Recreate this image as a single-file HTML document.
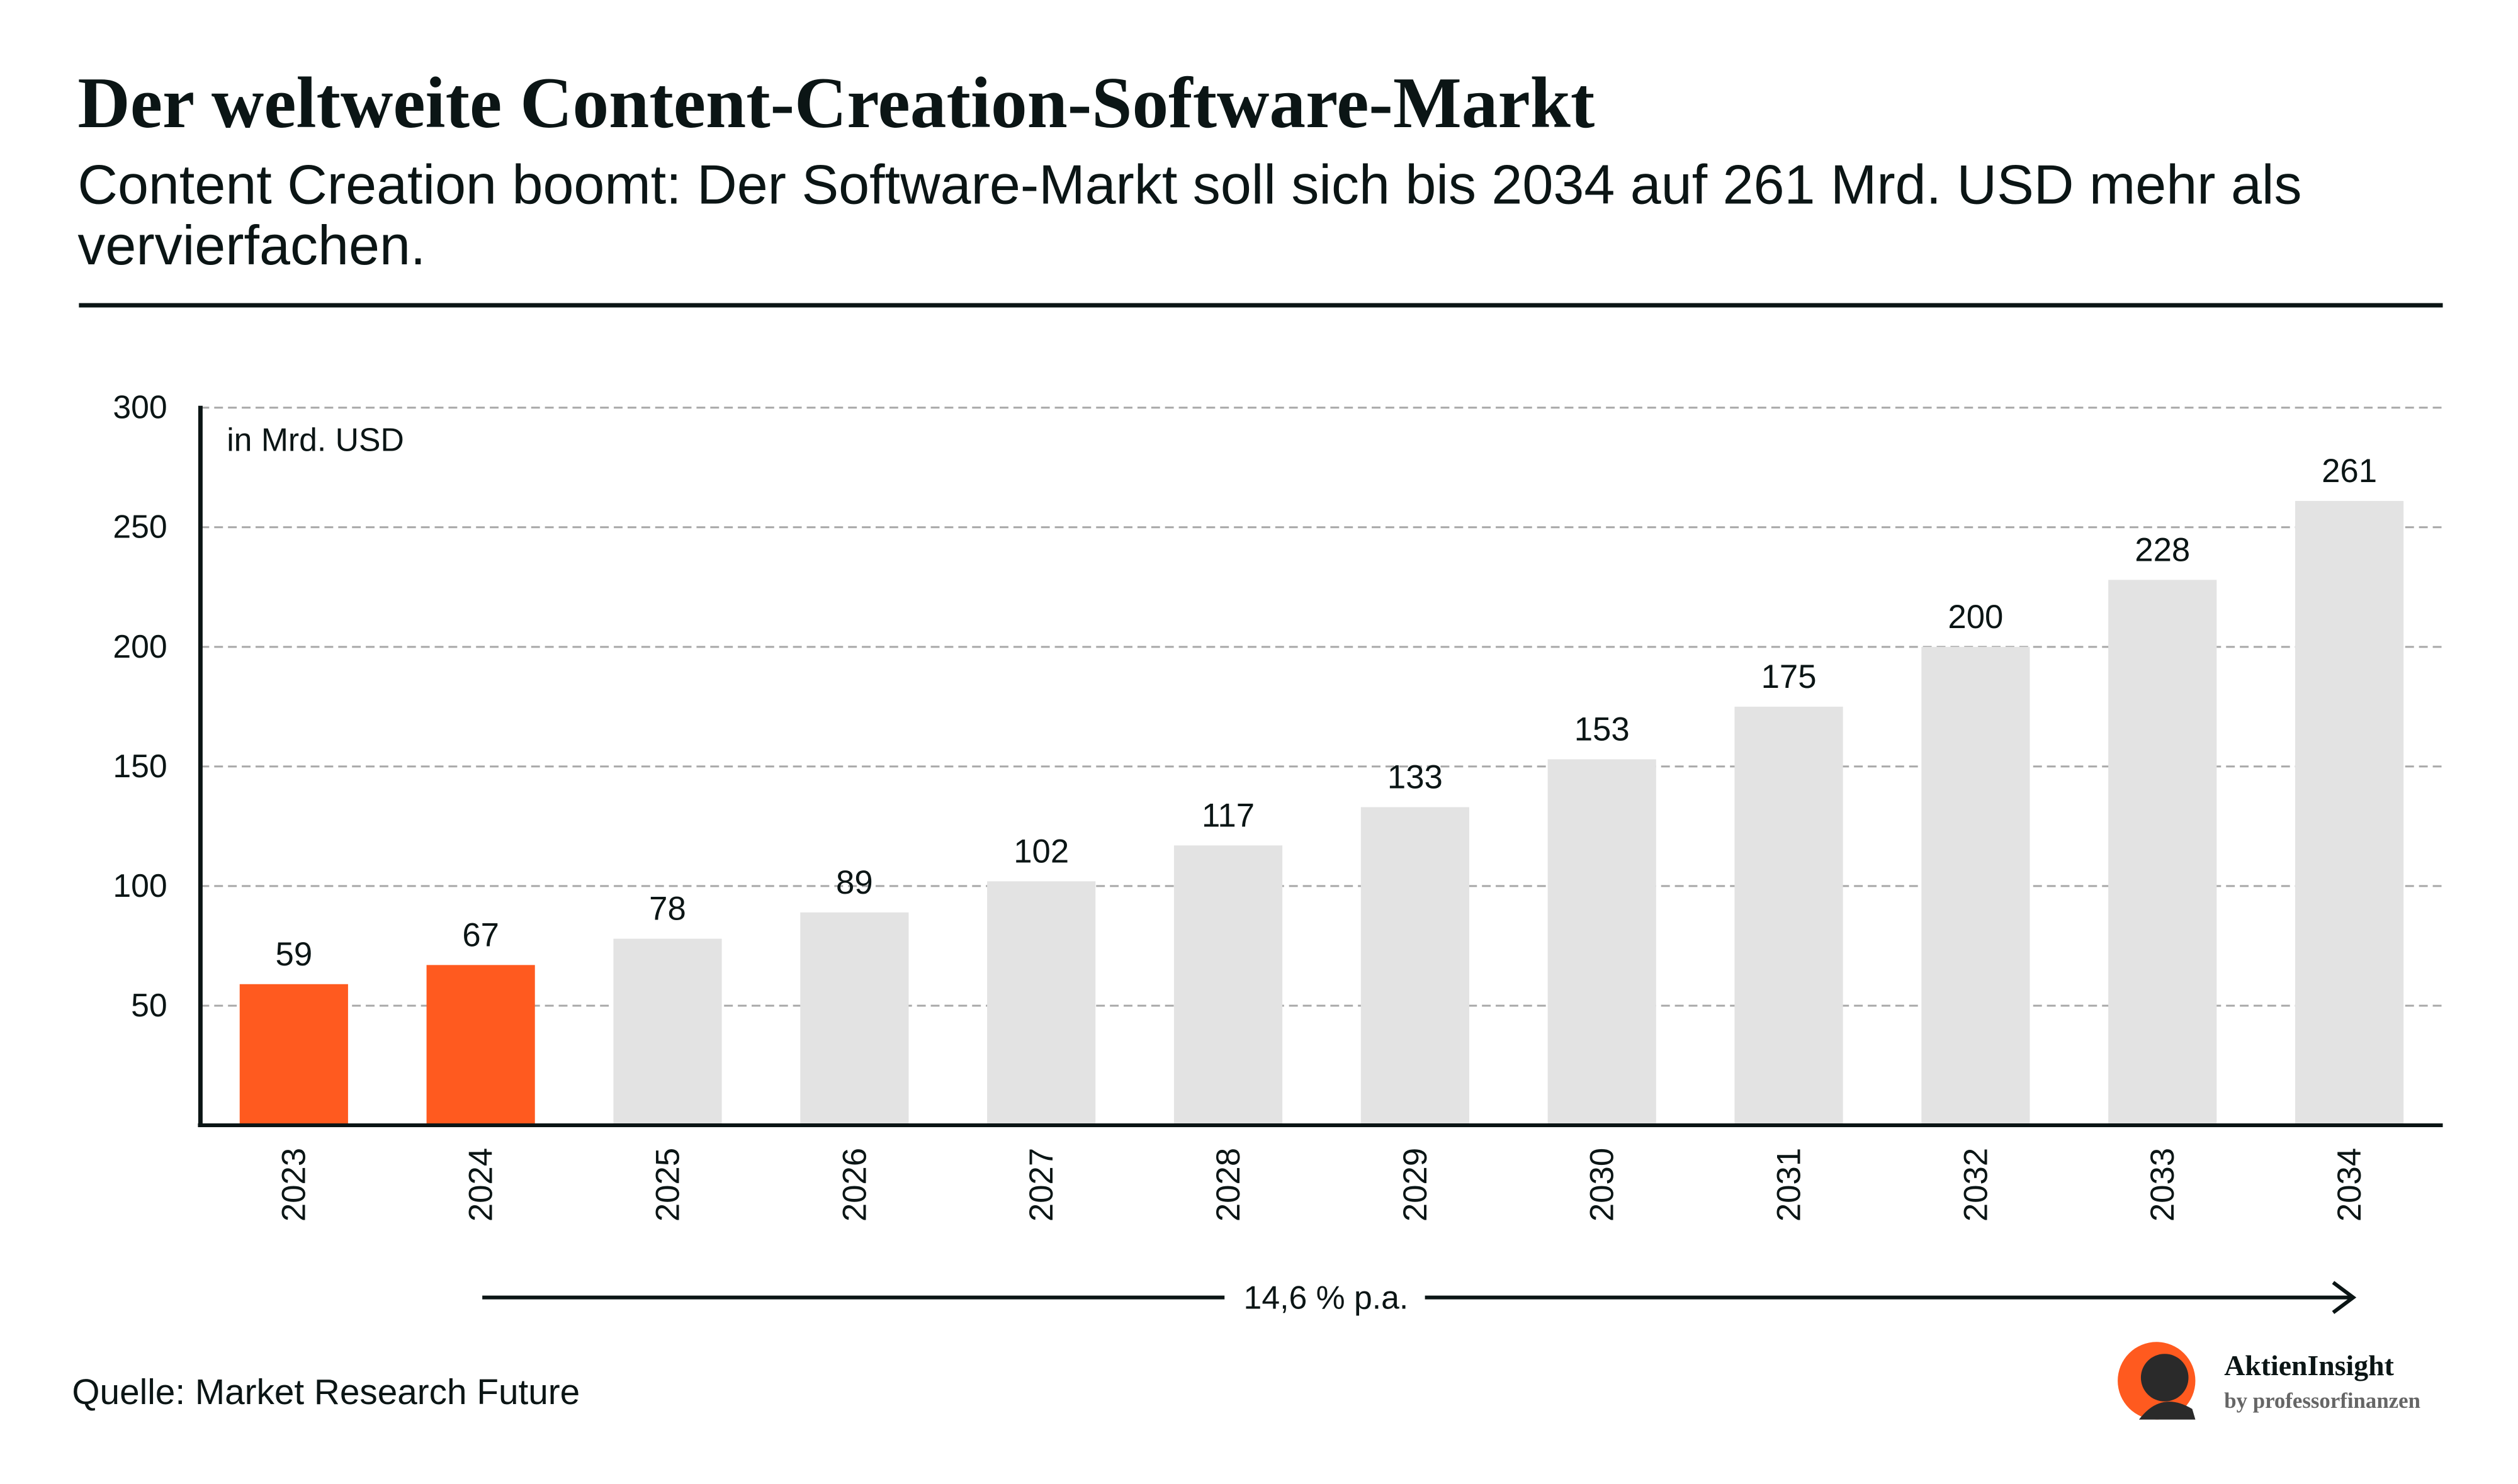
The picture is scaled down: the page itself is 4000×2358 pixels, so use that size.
<!DOCTYPE html>
<html><head><meta charset="utf-8"><style>
html,body{margin:0;padding:0;background:#fff;}
body{width:4000px;height:2353px;position:relative;overflow:hidden;font-family:"Liberation Sans",sans-serif;color:#0b1515;}
</style></head><body>
<svg width="4000" height="2353" viewBox="0 0 4000 2353" xmlns="http://www.w3.org/2000/svg">
<g transform="scale(0.995)">
<text x="124" y="203" font-family="Liberation Serif, serif" font-weight="bold" font-size="116" fill="#0b1515">Der weltweite Content-Creation-Software-Markt</text>
<text x="124" y="325" font-size="88.5" fill="#0b1515">Content Creation boomt: Der Software-Markt soll sich bis 2034 auf 261 Mrd. USD mehr als</text>
<text x="124" y="422" font-size="88.5" fill="#0b1515">vervierfachen.</text>
<rect x="126" y="484" width="3774" height="7" fill="#0b1515"/>
<g id="grid"></g>
<g id="bars"></g>
<line x1="320" y1="648" x2="320" y2="1800" stroke="#0b1515" stroke-width="7"/>
<line x1="316" y1="1797" x2="3900" y2="1797" stroke="#0b1515" stroke-width="6"/>
<text x="362" y="720" font-size="52" fill="#0b1515">in Mrd. USD</text>
<line x1="770" y1="2072" x2="1955" y2="2072" stroke="#0b1515" stroke-width="6"/>
<line x1="2275" y1="2072" x2="3755" y2="2072" stroke="#0b1515" stroke-width="6"/>
<polyline points="3725,2048 3757,2072 3725,2096" fill="none" stroke="#0b1515" stroke-width="6"/>
<text x="2117" y="2090" font-size="52" text-anchor="middle" fill="#0b1515">14,6 % p.a.</text>
<text x="115" y="2242" font-size="57" fill="#0b1515">Quelle: Market Research Future</text>
<g>
<circle cx="3443" cy="2205" r="62" fill="#ff5a1f"/>
<circle cx="3456" cy="2200" r="38" fill="#2a2a2a"/>
<path d="M3415,2267 Q3450,2220 3500,2250 L3505,2267 Z" fill="#2a2a2a"/>
</g>
<text x="3551" y="2196" font-family="Liberation Serif, serif" font-weight="bold" font-size="46" fill="#0b1515">AktienInsight</text>
<text x="3551" y="2248" font-family="Liberation Serif, serif" font-weight="bold" font-size="35" fill="#666">by professorfinanzen</text>
</g>
</svg>
<script>
const categories=["2023","2024","2025","2026","2027","2028","2029","2030","2031","2032","2033","2034"];
const values=[59,67,78,89,102,117,133,153,175,200,228,261];
const highlighted=[true,true,false,false,false,false,false,false,false,false,false,false];
const yTicks=[50,100,150,200,250,300];
const NS="http://www.w3.org/2000/svg";
const x0=320,x1=3900,yBase=1797,yTop=651,yMax=300;
const band=(x1-x0)/categories.length;
const bw=band*0.58;
function y(v){return yBase-(v/yMax)*(yBase-yTop);}
function xc(i){return x0+band*(i+0.5);}
function mk(tag,attrs,parent){const e=document.createElementNS(NS,tag);for(const k in attrs)e.setAttribute(k,attrs[k]);parent.appendChild(e);return e;}
const grid=document.getElementById('grid'),bars=document.getElementById('bars');
yTicks.forEach(t=>{
 const l=mk('line',{x1:x0,x2:x1,y1:y(t),y2:y(t),stroke:'#a8a8a8','stroke-width':3,'stroke-dasharray':'14 8'},grid);
 
 
 const tx=mk('text',{x:267,y:y(t)+17,'font-size':52,'text-anchor':'end',fill:'#0b1515'},grid);
 tx.textContent=t;
 
 
});
categories.forEach((c,i)=>{
 const v=values[i];
 const r=mk('rect',{x:xc(i)-bw/2,y:y(v),width:bw,height:yBase-y(v),fill:highlighted[i]?'#ff5a1f':'#e3e3e3'},bars);
 
 
 const t=mk('text',{x:xc(i),y:y(v)-30,'font-size':53,'text-anchor':'middle',fill:'#0b1515'},bars);
 t.textContent=v;
 
 
 const yl=mk('text',{x:0,y:0,'font-size':53,'text-anchor':'end',fill:'#0b1515',transform:'translate('+(xc(i)+18)+',1833) rotate(-90)'},bars);
 yl.textContent=c;
 
 
});
</script>
</body></html>
